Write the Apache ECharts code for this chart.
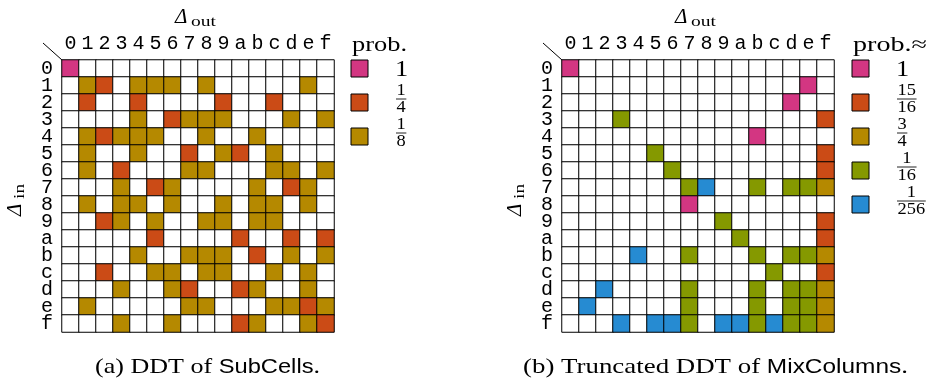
<!DOCTYPE html>
<html>
<head>
<meta charset="utf-8">
<script src="https://cdn.jsdelivr.net/npm/echarts@6/dist/echarts.min.js"></script>
<style>
html, body { margin: 0; background: #fff; }
#chart { width: 931px; height: 385px; }
</style>
</head>
<body>
<div id="chart"></div>
<script>
// tick labels (both axes, both tables)
const hexDigits = ['0','1','2','3','4','5','6','7','8','9','a','b','c','d','e','f'];

// (a) DDT of SubCells: 0 empty, 1 -> 1, 2 -> 1/4, 3 -> 1/8
const ddtSubCells = [
  [1,0,0,0,0,0,0,0,0,0,0,0,0,0,0,0],
  [0,3,2,0,3,3,3,0,3,0,0,0,0,0,3,0],
  [0,2,0,0,2,0,0,0,0,2,0,0,2,0,0,0],
  [0,0,0,0,3,0,2,3,3,3,0,0,0,3,0,3],
  [0,3,2,3,3,3,0,0,3,0,0,3,0,0,0,0],
  [0,3,0,0,3,0,0,2,0,3,2,0,3,0,0,0],
  [0,3,0,2,0,0,0,3,3,0,0,0,3,3,0,3],
  [0,0,0,3,0,2,3,0,0,0,0,3,0,2,3,0],
  [0,3,0,3,3,0,3,0,0,3,0,3,3,0,3,0],
  [0,0,2,3,0,3,0,0,3,3,0,3,3,0,0,0],
  [0,0,0,0,0,2,0,0,0,0,2,0,0,2,0,2],
  [0,0,0,0,3,0,0,3,3,3,0,2,0,3,0,3],
  [0,0,2,0,0,3,3,0,3,3,0,0,3,0,3,0],
  [0,0,0,3,0,0,3,2,0,0,2,3,0,0,3,0],
  [0,3,0,0,0,0,0,3,3,0,0,0,3,3,2,3],
  [0,0,0,3,0,0,3,0,0,0,2,3,0,0,3,2]
];

// (b) truncated DDT of MixColumns: 0 empty, 1 -> 1, 2 -> 15/16, 3 -> 3/4, 4 -> 1/16, 5 -> 1/256
const ddtMixColumns = [
  [1,0,0,0,0,0,0,0,0,0,0,0,0,0,0,0],
  [0,0,0,0,0,0,0,0,0,0,0,0,0,0,1,0],
  [0,0,0,0,0,0,0,0,0,0,0,0,0,1,0,0],
  [0,0,0,4,0,0,0,0,0,0,0,0,0,0,0,2],
  [0,0,0,0,0,0,0,0,0,0,0,1,0,0,0,0],
  [0,0,0,0,0,4,0,0,0,0,0,0,0,0,0,2],
  [0,0,0,0,0,0,4,0,0,0,0,0,0,0,0,2],
  [0,0,0,0,0,0,0,4,5,0,0,4,0,4,4,3],
  [0,0,0,0,0,0,0,1,0,0,0,0,0,0,0,0],
  [0,0,0,0,0,0,0,0,0,4,0,0,0,0,0,2],
  [0,0,0,0,0,0,0,0,0,0,4,0,0,0,0,2],
  [0,0,0,0,5,0,0,4,0,0,0,4,0,4,4,3],
  [0,0,0,0,0,0,0,0,0,0,0,0,4,0,0,2],
  [0,0,5,0,0,0,0,4,0,0,0,4,0,4,4,3],
  [0,5,0,0,0,0,0,4,0,0,0,4,0,4,4,3],
  [0,0,0,5,0,5,5,4,0,5,5,4,5,4,4,3]
];

const probColors = ['#ffffff', '#d33682', '#cb4b16', '#b58900', '#859900', '#268bd2'];
const legendA = ['1', '1/4', '1/8'];
const legendB = ['1', '15/16', '3/4', '1/16', '1/256'];
const legendTitleA = 'prob.';
const legendTitleB = 'prob.≈';

const SERIF = '"Liberation Serif", "DejaVu Serif", serif';
const SANS = '"Liberation Sans", "DejaVu Sans", sans-serif';
const MONO = '"Liberation Mono", "DejaVu Sans Mono", monospace';
const WIDE = 1.15; // the reference's text is a bit wider than these fonts

const toCells = (m) => {
  const out = [];
  m.forEach((row, r) => row.forEach((v, c) => out.push([c, r, v])));
  return out;
};

const measure = (() => {
  const ctx = document.createElement('canvas').getContext('2d');
  return (txt, font) => { ctx.font = font; return ctx.measureText(txt).width; };
})();

// panel geometry
const panels = [
  { left: 62, top: 60, size: 272, dx: 0 },
  { left: 562, top: 60, size: 272, dx: 500 }
];

const axisLabelStyle = {
  fontFamily: MONO,
  fontSize: 20,
  color: '#000',
  interval: 0
};

const xAxis = panels.map((p, i) => ({
  type: 'category',
  gridIndex: i,
  data: hexDigits,
  position: 'top',
  axisLine: { show: false },
  axisTick: { show: false },
  splitLine: { show: false },
  axisLabel: Object.assign({ margin: 6 }, axisLabelStyle)
}));

const yAxis = panels.map((p, i) => ({
  type: 'category',
  gridIndex: i,
  data: hexDigits,
  inverse: true,
  axisLine: { show: false },
  axisTick: { show: false },
  splitLine: { show: false },
  axisLabel: Object.assign({ margin: 9 }, axisLabelStyle)
}));

const graphic = [];

// Δ_out / Δ_in titles and corner diagonal
panels.forEach((p) => {
  const cx = p.left + p.size / 2;
  graphic.push({
    type: 'group', x: cx - 23, y: 17, silent: true,
    children: [
      { type: 'text', x: 0, y: 0, style: { text: 'Δ', font: 'italic 21px ' + SERIF, fill: '#000', verticalAlign: 'middle' } },
      { type: 'text', x: 16, y: 5, scaleX: 1.3, style: { text: 'out', font: '15px ' + SERIF, fill: '#000', verticalAlign: 'middle' } }
    ]
  });
  graphic.push({
    type: 'group', x: 15 + p.dx, y: 216, rotation: Math.PI / 2, silent: true,
    children: [
      { type: 'text', x: 0, y: 0, style: { text: 'Δ', font: 'italic 21px ' + SERIF, fill: '#000', verticalAlign: 'middle' } },
      { type: 'text', x: 17, y: 5, scaleX: 1.3, style: { text: 'in', font: '15px ' + SERIF, fill: '#000', verticalAlign: 'middle' } }
    ]
  });
  graphic.push({
    type: 'line', silent: true,
    shape: { x1: p.left - 19, y1: p.top - 17, x2: p.left, y2: p.top },
    style: { stroke: '#000', lineWidth: 1 }
  });
});

// legends
const addLegend = (x0, title, titleWidth, labels) => {
  const tf = '21px ' + SERIF;
  graphic.push({
    type: 'text', x: x0 + 1, y: 45, silent: true,
    scaleX: titleWidth / measure(title, tf),
    style: { text: title, font: tf, fill: '#000', verticalAlign: 'middle' }
  });
  labels.forEach((lab, i) => {
    const y = 60 + i * 34;
    graphic.push({
      type: 'rect', silent: true,
      shape: { x: x0, y: y, width: 17, height: 17 },
      style: { fill: probColors[i + 1], stroke: '#000', lineWidth: 1 }
    });
    const parts = lab.split('/');
    const lx = x0 + 45;
    if (parts.length === 1) {
      graphic.push({
        type: 'text', x: lx - 1, y: y + 10, silent: true, scaleX: WIDE,
        style: { text: parts[0], font: '23px ' + SERIF, fill: '#000', verticalAlign: 'middle' }
      });
    } else {
      const f = '16px ' + SERIF;
      const w = Math.max(measure(parts[0], f), measure(parts[1], f)) + 1;
      const ly = y + 5;
      graphic.push({
        type: 'group', x: lx, y: ly, silent: true, scaleX: WIDE,
        children: [
          { type: 'text', x: w / 2, y: -0.5, style: { text: parts[0], font: f, fill: '#000', align: 'center', verticalAlign: 'bottom' } },
          { type: 'line', shape: { x1: 0, y1: 0, x2: w, y2: 0 }, style: { stroke: '#000', lineWidth: 0.8 } },
          { type: 'text', x: w / 2, y: 1, style: { text: parts[1], font: f, fill: '#000', align: 'center', verticalAlign: 'top' } }
        ]
      });
    }
  });
};
addLegend(351, legendTitleA, 55, legendA);
addLegend(852, legendTitleB, 74, legendB);

// captions
const captionFonts = { r: 22, s: 20 };
const captions = [
  { x: 207.5, width: 225, parts: [['r', '(a) DDT of '], ['s', 'SubCells'], ['r', '.']] },
  { x: 715.5, width: 385, parts: [['r', '(b) Truncated DDT of '], ['s', 'MixColumns'], ['r', '.']] }
];
captions.forEach((c) => {
  const natural = c.parts.reduce((s, [k, t]) =>
    s + measure(t, captionFonts[k] + 'px ' + (k === 'r' ? SERIF : SANS)), 0);
  graphic.push({
    type: 'text', x: c.x, y: 367, silent: true,
    scaleX: c.width / natural,
    style: {
      text: c.parts.map(([k, t]) => '{' + k + '|' + t + '}').join(''),
      align: 'center', verticalAlign: 'middle',
      rich: {
        r: { fontFamily: SERIF, fontSize: captionFonts.r, fill: '#000' },
        s: { fontFamily: SANS, fontSize: captionFonts.s, fill: '#000' }
      }
    }
  });
});

const series = [ddtSubCells, ddtMixColumns].map((m, i) => ({
  type: 'heatmap',
  xAxisIndex: i,
  yAxisIndex: i,
  data: toCells(m),
  itemStyle: { borderColor: '#000', borderWidth: 1 },
  emphasis: { disabled: true },
  label: { show: false }
}));

const chart = echarts.init(document.getElementById('chart'), null, { renderer: 'canvas' });
chart.setOption({
  animation: false,
  backgroundColor: '#fff',
  tooltip: { show: false },
  grid: panels.map((p) => ({ left: p.left, top: p.top, width: p.size, height: p.size })),
  xAxis: xAxis,
  yAxis: yAxis,
  visualMap: [
    { type: 'piecewise', show: false, seriesIndex: 0, dimension: 2,
      pieces: probColors.slice(0, 4).map((c, v) => ({ value: v, color: c })) },
    { type: 'piecewise', show: false, seriesIndex: 1, dimension: 2,
      pieces: probColors.map((c, v) => ({ value: v, color: c })) }
  ],
  series: series,
  graphic: graphic
});
</script>
</body>
</html>
